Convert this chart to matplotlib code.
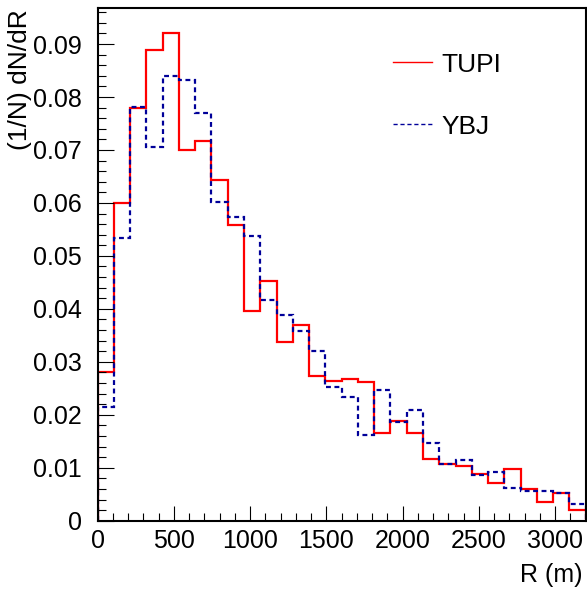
# (1/N) dN/dR distributions for TUPI and YBJ
import matplotlib.pyplot as plt
import numpy as np
from matplotlib.lines import Line2D
from matplotlib.ticker import MultipleLocator, FuncFormatter

plt.rcParams['font.family'] = ['Liberation Sans', 'DejaVu Sans']

# 30 bins from 0 to 3200 m
r_min, r_max, n_bins = 0, 3200, 30
edges = np.linspace(r_min, r_max, n_bins + 1)

tupi = [0.0280, 0.0600, 0.0780, 0.0889, 0.0921, 0.0700, 0.0717, 0.0643, 0.0558, 0.0396,
        0.0452, 0.0338, 0.0370, 0.0274, 0.0264, 0.0267, 0.0261, 0.0166, 0.0188, 0.0166,
        0.0117, 0.0108, 0.0103, 0.0089, 0.0071, 0.0098, 0.0059, 0.0035, 0.0052, 0.0021]
ybj = [0.0214, 0.0533, 0.0782, 0.0705, 0.0839, 0.0833, 0.0770, 0.0602, 0.0574, 0.0538,
       0.0416, 0.0389, 0.0359, 0.0321, 0.0253, 0.0234, 0.0162, 0.0247, 0.0187, 0.0209,
       0.0146, 0.0108, 0.0114, 0.0087, 0.0092, 0.0062, 0.0057, 0.0056, 0.0052, 0.0032]

red = '#ff0000'
blue = '#000099'
ybj_dash = (0, (2.2, 1.6))

fig = plt.figure(figsize=(5.87, 5.95), dpi=100)
ax = fig.add_axes([97.5 / 587, 1 - 520.7 / 595, 488.2 / 587, 513.2 / 595])

ax.stairs(tupi, edges, baseline=0, color=red, lw=1.6)
ax.stairs(ybj, edges, baseline=0, color=blue, lw=1.6, linestyle=ybj_dash)

ax.set_xlim(0, 3200)
ax.set_ylim(0, 0.0969)

ax.xaxis.set_major_locator(MultipleLocator(500))
ax.xaxis.set_minor_locator(MultipleLocator(100))
ax.yaxis.set_major_locator(MultipleLocator(0.01))
ax.yaxis.set_minor_locator(MultipleLocator(0.002))
ax.yaxis.set_major_formatter(FuncFormatter(lambda v, p: '0' if abs(v) < 1e-9 else f'{v:.2f}'))

ax.tick_params(which='both', direction='in', top=False, right=False, width=0.8, labelsize=18)
ax.tick_params(axis='x', which='major', length=11, pad=6)
ax.tick_params(axis='x', which='minor', length=5.5)
ax.tick_params(axis='y', which='major', length=11.5, pad=11)
ax.tick_params(axis='y', which='minor', length=5.5)
for s in ax.spines.values():
    s.set_linewidth(1.5)

# axis titles, ROOT style (right / top aligned)
fig.text(582 / 587, 1 - 575 / 595, 'R (m)', ha='right', va='center', fontsize=18)
fig.text(20 / 587, 1 - 9 / 595, '(1/N) dN/dR', rotation=90, ha='center', va='top', fontsize=19)

handles = [Line2D([], [], color=red, lw=1.0),
           Line2D([], [], color=blue, lw=1.0, linestyle=(0, (3, 2)))]
ax.legend(handles, ['TUPI', 'YBJ'], loc='upper left', bbox_to_anchor=(0.6047, 0.912),
          frameon=False, fontsize=19, handlelength=1.5, handletextpad=0.36,
          labelspacing=1.44, borderpad=0, borderaxespad=0)

fig.savefig('out.png', dpi=100)
